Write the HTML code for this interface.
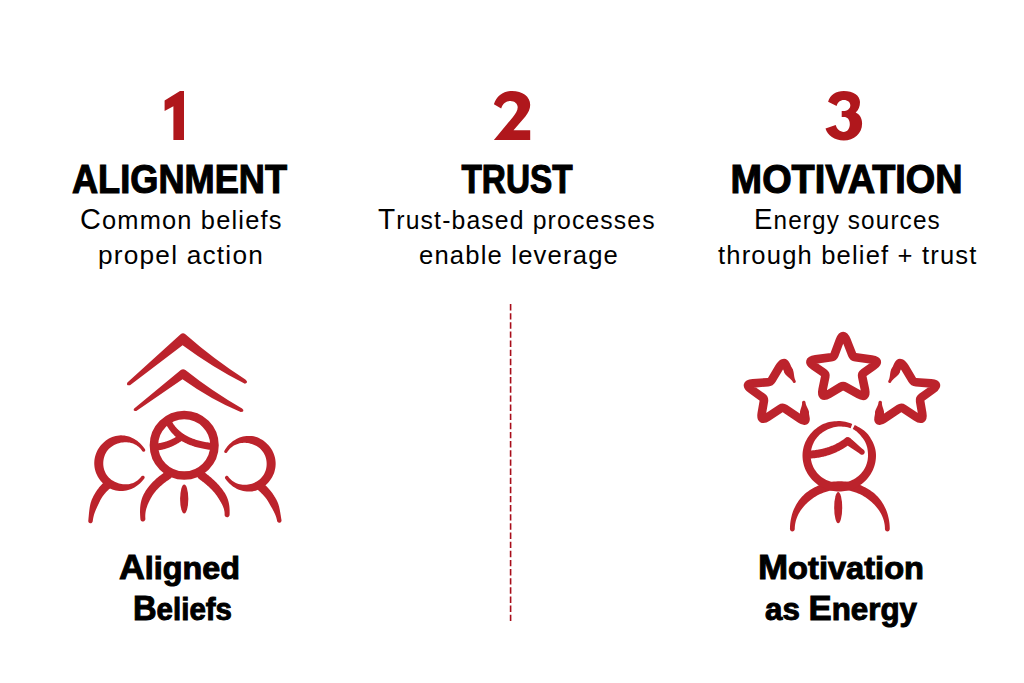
<!DOCTYPE html>
<html><head><meta charset="utf-8">
<style>
html,body{margin:0;padding:0;background:#fff;}
body{width:1024px;height:683px;overflow:hidden;position:relative;}
svg{position:absolute;left:0;top:0;}
.t{font-family:"Liberation Sans",sans-serif;fill:#000;}
.h{font-weight:bold;font-size:40px;stroke:#000;stroke-width:1.15px;}
.s{font-size:26px;letter-spacing:1.2px;}
.sc{font-size:29.5px;}
.b{font-weight:bold;font-size:32px;stroke:#000;stroke-width:1px;}
.bc{font-size:35.5px;}
</style></head><body>
<svg width="1024" height="683" viewBox="0 0 1024 683">
<!-- numerals -->
<g fill="#b0171c">
<path d="M164.6,100.5 L180,91 L184,91 L184,140 L173.4,140 L173.4,106.3 L164.6,111 Z"/>
<path d="M493.9,139.9 L530.2,139.9 L530.2,130.2 L513.5,130.2 L525.4,116.6 C528.5,112.5 530.2,109 530.2,104.8 C530.2,96.5 522.5,91 512,91 C503.5,91 496.5,96 493.9,104.3 L501.2,108.5 C502.8,103.5 506,100.9 510.3,100.9 C514.8,100.9 517.7,103.8 517.7,107.3 C517.7,110.5 515.5,113.8 512.6,117.4 Z"/>
<path d="M825.5,128.5 C827.5,135.5 834.5,140.4 843.8,140.4 C854,140.4 862.1,133.5 862.1,123.4 C862.1,117.5 859,114 855.7,112.5 C858.5,110.5 860,106.5 860,102.1 C860,95.5 853,91.1 843.8,91.1 C836,91.1 830.2,95 828.1,101.7 L836.6,106 C837.6,102.3 840.3,100 843.8,100 C847.8,100 850.3,102.3 850.3,105.3 C850.3,108.8 847.5,111.1 842.8,111.1 L841.7,111.1 L841.7,117 L843.8,117 C847.5,117 849.8,119.6 849.8,124.2 C849.8,128.6 847.3,131.9 843.8,131.9 C839.8,131.9 837,129.5 835.7,125.1 Z"/>
</g>
<!-- headings -->
<text class="t h" x="72" y="193.2" textLength="215" lengthAdjust="spacingAndGlyphs">ALIGNMENT</text>
<text class="t h" x="461.5" y="193.2" textLength="111" lengthAdjust="spacingAndGlyphs">TRUST</text>
<text class="t h" x="730.6" y="193.2" textLength="232" lengthAdjust="spacingAndGlyphs">MOTIVATION</text>
<!-- subtitles -->
<text class="t s" x="80" y="228.6" textLength="202.6" lengthAdjust="spacingAndGlyphs"><tspan class="sc">C</tspan>ommon beliefs</text>
<text class="t s" x="98" y="263.5" textLength="166" lengthAdjust="spacingAndGlyphs">propel action</text>
<text class="t s" x="378" y="228.6" textLength="277.8" lengthAdjust="spacingAndGlyphs"><tspan class="sc">T</tspan>rust-based processes</text>
<text class="t s" x="419" y="263.5" textLength="200" lengthAdjust="spacingAndGlyphs">enable leverage</text>
<text class="t s" x="754" y="228.6" textLength="186.8" lengthAdjust="spacingAndGlyphs"><tspan class="sc">E</tspan>nergy sources</text>
<text class="t s" x="718" y="263.5" textLength="259.6" lengthAdjust="spacingAndGlyphs">through belief + trust</text>
<!-- bottom labels -->
<text class="t b" x="119" y="578.8" textLength="121" lengthAdjust="spacingAndGlyphs"><tspan class="bc">A</tspan>ligned</text>
<text class="t b" x="133" y="620.2" textLength="99" lengthAdjust="spacingAndGlyphs"><tspan class="bc">B</tspan>eliefs</text>
<text class="t b" x="758" y="578.8" textLength="166" lengthAdjust="spacingAndGlyphs"><tspan class="bc">M</tspan>otivation</text>
<text class="t b" x="765" y="619.8" textLength="152" lengthAdjust="spacingAndGlyphs">as <tspan class="bc">E</tspan>nergy</text>
<!-- dashed divider -->
<line x1="510.6" y1="304" x2="510.6" y2="621" stroke="#a80d1a" stroke-width="1.6" stroke-dasharray="6.4 2.74"/>
<!-- left icon -->
<g fill="#bc232c">
<path d="M127.4,382.4 L180.6,334.3 Q183,332.3 185.4,334.3 Q214,359.5 245.4,379.5 Q249,382.5 244.9,383.8 Q213.75,368.2 182.6,345.3 L130,385.2 Q125.8,385.8 127.4,382.4 Z"/>
<path d="M134.2,408.6 L180.8,370.1 Q183.1,368.3 185.4,370.1 Q212.6,391.8 242.1,408.5 Q245.3,411.5 240.7,412.1 Q211.65,400 182.5,379.3 L136.3,410.9 Q132.4,411.3 134.2,408.6 Z"/>
<path d="M145.01,449.34 L144.12,448.01 L143.13,446.68 L142.07,445.40 L140.95,444.18 L139.75,443.01 L138.49,441.91 L137.17,440.87 L135.78,439.90 L134.33,439.00 L132.82,438.19 L131.25,437.47 L129.63,436.85 L127.97,436.32 L126.26,435.91 L124.52,435.61 L122.76,435.43 L120.98,435.37 L119.19,435.44 L117.41,435.64 L115.64,435.97 L113.89,436.43 L112.18,437.02 L110.52,437.74 L108.92,438.59 L107.37,439.54 L105.89,440.58 L104.47,441.70 L103.12,442.92 L101.84,444.21 L100.65,445.58 L99.54,447.02 L98.52,448.54 L97.59,450.11 L96.78,451.75 L96.06,453.44 L95.47,455.17 L94.98,456.94 L94.62,458.74 L94.38,460.56 L94.26,462.39 L94.27,464.23 L94.40,466.06 L94.66,467.88 L95.04,469.68 L95.53,471.44 L96.14,473.17 L96.86,474.85 L97.69,476.48 L98.61,478.05 L99.64,479.56 L100.75,481.00 L101.95,482.36 L103.22,483.65 L104.58,484.86 L106.00,485.99 L107.48,487.03 L109.03,487.97 L110.65,488.79 L112.31,489.48 L114.03,490.05 L115.77,490.49 L117.54,490.81 L119.32,490.99 L121.11,491.05 L122.88,490.99 L124.64,490.80 L126.37,490.50 L128.08,490.09 L129.74,489.58 L131.35,488.96 L132.92,488.25 L134.44,487.45 L135.89,486.57 L137.29,485.61 L138.63,484.58 L139.90,483.49 L141.11,482.33 L142.25,481.11 L143.33,479.84 L144.30,478.56 L144.61,477.93 L144.66,477.23 L144.43,476.56 L143.97,476.03 L143.34,475.72 L142.64,475.67 L141.97,475.90 L141.45,476.36 L140.53,477.54 L139.56,478.60 L138.52,479.58 L137.41,480.48 L136.23,481.29 L135.00,482.01 L133.73,482.63 L132.42,483.15 L131.09,483.58 L129.73,483.91 L128.37,484.15 L127.00,484.29 L125.63,484.35 L124.28,484.32 L122.94,484.21 L121.61,484.02 L120.31,483.76 L119.03,483.43 L117.78,483.03 L116.56,482.58 L115.37,482.06 L114.21,481.49 L113.08,480.86 L111.98,480.18 L110.93,479.43 L109.93,478.61 L108.99,477.73 L108.12,476.79 L107.31,475.79 L106.57,474.74 L105.91,473.64 L105.32,472.51 L104.80,471.34 L104.36,470.15 L103.99,468.93 L103.69,467.69 L103.47,466.45 L103.33,465.19 L103.26,463.93 L103.26,462.66 L103.33,461.40 L103.48,460.14 L103.70,458.90 L103.99,457.66 L104.36,456.45 L104.80,455.25 L105.31,454.09 L105.90,452.95 L106.55,451.86 L107.28,450.80 L108.08,449.80 L108.95,448.85 L109.88,447.96 L110.87,447.13 L111.91,446.38 L113.01,445.70 L114.14,445.08 L115.30,444.52 L116.49,444.01 L117.71,443.56 L118.96,443.16 L120.23,442.83 L121.53,442.57 L122.84,442.38 L124.18,442.26 L125.53,442.21 L126.90,442.25 L128.26,442.38 L129.63,442.60 L130.99,442.90 L132.34,443.31 L133.66,443.81 L134.95,444.40 L136.19,445.10 L137.39,445.88 L138.53,446.76 L139.60,447.73 L140.60,448.78 L141.51,449.90 L142.36,451.14 L142.80,451.57 L143.38,451.81 L144.00,451.81 L144.58,451.56 L145.02,451.12 L145.25,450.54 L145.25,449.92Z"/>
<path d="M227.13,452.37 L227.95,451.09 L228.83,449.92 L229.80,448.83 L230.85,447.82 L231.97,446.89 L233.15,446.06 L234.39,445.32 L235.68,444.67 L237.00,444.13 L238.34,443.68 L239.71,443.33 L241.08,443.07 L242.46,442.91 L243.84,442.83 L245.21,442.84 L246.56,442.93 L247.90,443.09 L249.21,443.33 L250.51,443.63 L251.77,444.00 L253.02,444.43 L254.23,444.92 L255.42,445.46 L256.57,446.07 L257.69,446.73 L258.76,447.48 L259.78,448.30 L260.73,449.18 L261.62,450.13 L262.44,451.13 L263.19,452.19 L263.87,453.29 L264.48,454.43 L265.01,455.60 L265.47,456.80 L265.85,458.03 L266.16,459.27 L266.39,460.53 L266.55,461.80 L266.64,463.07 L266.65,464.35 L266.58,465.63 L266.44,466.90 L266.22,468.16 L265.93,469.41 L265.56,470.64 L265.12,471.85 L264.60,473.03 L264.00,474.18 L263.33,475.29 L262.58,476.35 L261.76,477.36 L260.88,478.31 L259.93,479.20 L258.91,480.02 L257.85,480.77 L256.74,481.46 L255.59,482.09 L254.42,482.66 L253.21,483.17 L251.97,483.63 L250.70,484.01 L249.41,484.34 L248.09,484.59 L246.75,484.76 L245.39,484.85 L244.02,484.87 L242.64,484.79 L241.26,484.62 L239.88,484.36 L238.52,484.01 L237.17,483.55 L235.86,483.00 L234.59,482.35 L233.36,481.61 L232.18,480.77 L231.08,479.84 L230.04,478.83 L229.08,477.74 L228.18,476.53 L227.66,476.05 L227.00,475.81 L226.30,475.84 L225.67,476.14 L225.19,476.66 L224.95,477.32 L224.98,478.02 L225.28,478.66 L226.24,479.97 L227.30,481.28 L228.43,482.54 L229.63,483.73 L230.90,484.86 L232.23,485.92 L233.63,486.91 L235.09,487.82 L236.61,488.65 L238.19,489.39 L239.81,490.04 L241.49,490.58 L243.20,491.01 L244.95,491.34 L246.73,491.54 L248.52,491.62 L250.32,491.58 L252.13,491.40 L253.92,491.10 L255.68,490.66 L257.42,490.10 L259.11,489.40 L260.75,488.58 L262.32,487.64 L263.82,486.60 L265.26,485.46 L266.63,484.24 L267.93,482.94 L269.14,481.56 L270.26,480.11 L271.30,478.58 L272.23,476.99 L273.06,475.35 L273.79,473.64 L274.40,471.90 L274.89,470.11 L275.26,468.29 L275.51,466.45 L275.64,464.60 L275.63,462.74 L275.50,460.89 L275.24,459.05 L274.86,457.23 L274.35,455.45 L273.73,453.70 L272.99,452.01 L272.15,450.36 L271.20,448.78 L270.15,447.26 L269.01,445.82 L267.78,444.45 L266.47,443.16 L265.08,441.96 L263.63,440.84 L262.11,439.82 L260.53,438.88 L258.90,438.06 L257.20,437.37 L255.46,436.80 L253.69,436.37 L251.89,436.07 L250.09,435.91 L248.28,435.88 L246.48,435.98 L244.70,436.20 L242.95,436.55 L241.24,437.01 L239.57,437.58 L237.95,438.25 L236.38,439.02 L234.88,439.88 L233.44,440.83 L232.07,441.85 L230.76,442.94 L229.52,444.10 L228.35,445.31 L227.25,446.59 L226.23,447.91 L225.28,449.29 L224.42,450.66 L224.20,451.25 L224.22,451.87 L224.47,452.44 L224.93,452.87 L225.51,453.09 L226.13,453.07 L226.70,452.82Z"/>
<path d="M104.77,481.75 L104.26,482.17 L103.74,482.62 L103.23,483.09 L102.73,483.56 L102.23,484.03 L101.74,484.52 L101.26,485.01 L100.79,485.52 L100.33,486.03 L99.88,486.54 L99.43,487.07 L98.99,487.60 L98.56,488.14 L98.14,488.69 L97.73,489.24 L97.32,489.80 L96.92,490.37 L96.53,490.94 L96.15,491.52 L95.77,492.10 L95.40,492.70 L95.04,493.29 L94.68,493.90 L94.34,494.51 L93.99,495.12 L93.66,495.75 L93.33,496.37 L93.01,497.01 L92.69,497.65 L92.38,498.29 L92.08,498.95 L91.80,499.61 L91.54,500.28 L91.29,500.97 L91.06,501.66 L90.84,502.36 L90.63,503.07 L90.45,503.78 L90.27,504.50 L90.11,505.23 L89.96,505.97 L89.83,506.71 L89.70,507.45 L89.58,508.20 L89.48,508.96 L89.38,509.72 L89.28,510.48 L89.20,511.25 L89.11,512.02 L89.03,512.79 L88.96,513.57 L88.88,514.36 L88.81,515.14 L88.73,515.93 L88.66,516.73 L88.58,517.53 L88.51,518.33 L88.43,519.14 L88.35,519.95 L88.26,520.76 L88.34,521.63 L88.75,522.41 L89.42,522.97 L90.26,523.24 L91.13,523.16 L91.91,522.75 L92.47,522.08 L92.74,521.24 L92.83,520.46 L92.93,519.69 L93.05,518.93 L93.19,518.18 L93.34,517.44 L93.51,516.71 L93.69,515.98 L93.88,515.27 L94.08,514.57 L94.30,513.87 L94.53,513.19 L94.76,512.51 L95.01,511.85 L95.26,511.19 L95.52,510.54 L95.79,509.90 L96.06,509.27 L96.33,508.65 L96.61,508.04 L96.89,507.43 L97.17,506.84 L97.45,506.25 L97.73,505.66 L98.00,505.08 L98.28,504.51 L98.55,503.94 L98.82,503.38 L99.09,502.82 L99.36,502.26 L99.62,501.71 L99.88,501.16 L100.15,500.62 L100.43,500.09 L100.71,499.56 L101.01,499.04 L101.30,498.53 L101.61,498.03 L101.92,497.53 L102.24,497.04 L102.56,496.56 L102.89,496.09 L103.23,495.62 L103.57,495.16 L103.92,494.71 L104.27,494.26 L104.63,493.82 L105.00,493.39 L105.37,492.96 L105.74,492.54 L106.12,492.12 L106.51,491.71 L106.90,491.31 L107.30,490.91 L107.70,490.52 L108.10,490.13 L108.51,489.75 L108.93,489.37 L109.35,489.00 L109.78,488.64 L110.23,488.25 L111.27,486.96 L111.73,485.37 L111.55,483.72 L110.75,482.27 L109.46,481.23 L107.87,480.77 L106.22,480.95Z"/>
<path d="M258.71,490.71 L259.16,491.09 L259.58,491.47 L260.00,491.84 L260.41,492.22 L260.82,492.60 L261.22,492.99 L261.62,493.38 L262.01,493.77 L262.40,494.17 L262.79,494.57 L263.17,494.98 L263.55,495.39 L263.92,495.80 L264.28,496.22 L264.65,496.65 L265.00,497.08 L265.36,497.51 L265.70,497.95 L266.05,498.39 L266.38,498.84 L266.71,499.30 L267.04,499.76 L267.36,500.23 L267.67,500.70 L267.98,501.18 L268.28,501.66 L268.58,502.15 L268.87,502.64 L269.15,503.14 L269.43,503.65 L269.71,504.16 L269.99,504.67 L270.27,505.18 L270.55,505.69 L270.84,506.20 L271.14,506.72 L271.43,507.24 L271.73,507.76 L272.03,508.29 L272.33,508.82 L272.62,509.36 L272.92,509.90 L273.22,510.45 L273.51,511.00 L273.80,511.56 L274.09,512.13 L274.37,512.71 L274.64,513.29 L274.91,513.88 L275.16,514.48 L275.41,515.09 L275.65,515.70 L275.87,516.32 L276.09,516.95 L276.29,517.59 L276.48,518.24 L276.65,518.89 L276.81,519.56 L276.96,520.22 L277.09,520.91 L277.41,521.73 L278.03,522.35 L278.83,522.70 L279.71,522.71 L280.53,522.39 L281.15,521.77 L281.50,520.97 L281.51,520.09 L281.39,519.38 L281.26,518.66 L281.14,517.95 L281.02,517.24 L280.90,516.53 L280.79,515.83 L280.68,515.12 L280.56,514.42 L280.45,513.72 L280.34,513.02 L280.22,512.32 L280.10,511.63 L279.98,510.94 L279.85,510.25 L279.72,509.56 L279.58,508.88 L279.44,508.20 L279.28,507.52 L279.12,506.85 L278.94,506.18 L278.75,505.51 L278.56,504.86 L278.34,504.20 L278.12,503.56 L277.88,502.92 L277.63,502.29 L277.36,501.67 L277.08,501.05 L276.78,500.45 L276.47,499.85 L276.15,499.26 L275.82,498.68 L275.49,498.10 L275.15,497.52 L274.81,496.95 L274.46,496.38 L274.11,495.82 L273.75,495.26 L273.39,494.71 L273.02,494.16 L272.64,493.61 L272.26,493.07 L271.87,492.53 L271.48,492.00 L271.08,491.48 L270.67,490.96 L270.26,490.44 L269.84,489.93 L269.41,489.43 L268.98,488.93 L268.54,488.44 L268.09,487.95 L267.64,487.47 L267.18,486.99 L266.71,486.52 L266.23,486.06 L265.75,485.60 L265.26,485.15 L264.77,484.71 L264.29,484.29 L262.85,483.47 L261.20,483.26 L259.60,483.70 L258.29,484.71 L257.47,486.15 L257.26,487.80 L257.70,489.40Z"/>
<path d="M165.68,471.64 L164.75,472.25 L163.81,472.87 L162.90,473.51 L162.00,474.15 L161.11,474.79 L160.24,475.45 L159.39,476.11 L158.56,476.77 L157.74,477.44 L156.94,478.12 L156.15,478.81 L155.39,479.50 L154.64,480.19 L153.90,480.90 L153.18,481.61 L152.48,482.32 L151.80,483.04 L151.13,483.77 L150.48,484.50 L149.84,485.24 L149.23,485.99 L148.63,486.74 L148.04,487.50 L147.47,488.26 L146.92,489.03 L146.39,489.80 L145.87,490.59 L145.37,491.37 L144.89,492.16 L144.42,492.96 L143.97,493.77 L143.55,494.58 L143.16,495.41 L142.79,496.24 L142.44,497.08 L142.13,497.93 L141.83,498.79 L141.57,499.65 L141.32,500.52 L141.10,501.39 L140.91,502.27 L140.73,503.14 L140.58,504.02 L140.45,504.91 L140.34,505.79 L140.25,506.68 L140.17,507.57 L140.12,508.45 L140.07,509.34 L140.05,510.23 L140.03,511.12 L140.03,512.01 L140.04,512.91 L140.07,513.80 L140.10,514.70 L140.14,515.60 L140.20,516.50 L140.26,517.41 L140.33,518.32 L140.41,519.21 L140.68,520.14 L141.28,520.91 L142.14,521.38 L143.11,521.49 L144.04,521.22 L144.81,520.62 L145.28,519.76 L145.39,518.79 L145.33,517.95 L145.29,517.13 L145.27,516.32 L145.28,515.52 L145.31,514.72 L145.37,513.93 L145.45,513.14 L145.55,512.36 L145.67,511.60 L145.81,510.83 L145.98,510.08 L146.16,509.34 L146.35,508.60 L146.57,507.88 L146.80,507.16 L147.04,506.45 L147.30,505.74 L147.57,505.05 L147.85,504.36 L148.14,503.68 L148.44,503.00 L148.75,502.33 L149.07,501.66 L149.40,500.99 L149.74,500.33 L150.08,499.67 L150.43,499.01 L150.79,498.36 L151.16,497.70 L151.53,497.04 L151.92,496.38 L152.32,495.73 L152.74,495.08 L153.17,494.43 L153.63,493.79 L154.09,493.15 L154.58,492.51 L155.08,491.88 L155.60,491.25 L156.13,490.62 L156.68,490.00 L157.25,489.38 L157.84,488.77 L158.44,488.15 L159.05,487.54 L159.69,486.94 L160.34,486.34 L161.01,485.74 L161.69,485.14 L162.39,484.55 L163.11,483.96 L163.84,483.37 L164.59,482.78 L165.35,482.20 L166.14,481.62 L166.94,481.05 L167.75,480.47 L168.58,479.91 L169.43,479.34 L170.32,478.76 L171.51,477.60 L172.16,476.08 L172.18,474.42 L171.56,472.88 L170.40,471.69 L168.88,471.04 L167.22,471.02Z"/>
<path d="M199.00,478.94 L199.86,479.56 L200.69,480.17 L201.50,480.78 L202.30,481.39 L203.08,482.00 L203.85,482.61 L204.60,483.22 L205.34,483.82 L206.06,484.43 L206.76,485.03 L207.46,485.64 L208.13,486.24 L208.79,486.85 L209.44,487.45 L210.07,488.05 L210.68,488.66 L211.28,489.26 L211.87,489.86 L212.44,490.46 L212.99,491.07 L213.53,491.67 L214.05,492.27 L214.56,492.87 L215.05,493.47 L215.52,494.07 L215.98,494.67 L216.43,495.27 L216.85,495.87 L217.27,496.46 L217.66,497.06 L218.05,497.66 L218.43,498.25 L218.80,498.83 L219.16,499.41 L219.52,499.99 L219.87,500.56 L220.21,501.13 L220.55,501.70 L220.88,502.27 L221.20,502.83 L221.50,503.40 L221.80,503.97 L222.09,504.54 L222.37,505.11 L222.64,505.68 L222.89,506.26 L223.13,506.84 L223.36,507.42 L223.57,508.01 L223.76,508.60 L223.94,509.19 L224.09,509.79 L224.23,510.40 L224.35,511.00 L224.44,511.61 L224.52,512.23 L224.57,512.84 L224.61,513.46 L224.62,514.08 L224.60,514.73 L224.76,515.69 L225.28,516.52 L226.08,517.08 L227.03,517.30 L227.99,517.14 L228.82,516.62 L229.38,515.82 L229.60,514.87 L229.62,514.17 L229.64,513.43 L229.65,512.70 L229.65,511.97 L229.64,511.24 L229.63,510.50 L229.60,509.76 L229.57,509.03 L229.52,508.28 L229.46,507.54 L229.39,506.79 L229.31,506.04 L229.21,505.29 L229.09,504.54 L228.96,503.78 L228.81,503.02 L228.65,502.27 L228.46,501.51 L228.25,500.75 L228.03,499.99 L227.78,499.23 L227.51,498.48 L227.22,497.72 L226.90,496.98 L226.57,496.23 L226.21,495.49 L225.82,494.76 L225.42,494.03 L224.99,493.30 L224.54,492.59 L224.06,491.88 L223.58,491.17 L223.08,490.46 L222.56,489.75 L222.03,489.05 L221.49,488.35 L220.93,487.65 L220.36,486.95 L219.77,486.25 L219.17,485.56 L218.55,484.86 L217.92,484.17 L217.27,483.48 L216.61,482.79 L215.93,482.11 L215.24,481.42 L214.53,480.74 L213.81,480.06 L213.08,479.38 L212.33,478.71 L211.56,478.03 L210.78,477.36 L209.98,476.69 L209.17,476.02 L208.34,475.35 L207.50,474.69 L206.64,474.02 L205.77,473.36 L204.88,472.71 L204.00,472.06 L202.49,471.37 L200.83,471.30 L199.28,471.88 L198.06,473.00 L197.37,474.51 L197.30,476.17 L197.88,477.72Z"/>
<path d="M166.16,424.58 L166.45,425.10 L166.76,425.64 L167.07,426.18 L167.40,426.72 L167.73,427.27 L168.08,427.81 L168.44,428.36 L168.80,428.90 L169.18,429.45 L169.57,430.00 L169.98,430.54 L170.39,431.09 L170.82,431.63 L171.27,432.18 L171.73,432.72 L172.20,433.26 L172.69,433.79 L173.19,434.33 L173.71,434.86 L174.25,435.38 L174.80,435.90 L175.37,436.42 L175.95,436.93 L176.56,437.44 L177.18,437.94 L177.82,438.43 L178.48,438.92 L179.15,439.39 L179.85,439.87 L180.56,440.33 L181.29,440.78 L182.04,441.23 L182.81,441.67 L183.60,442.11 L184.41,442.53 L185.24,442.95 L186.08,443.36 L186.95,443.76 L187.83,444.15 L188.74,444.53 L189.67,444.91 L190.62,445.27 L191.59,445.62 L192.58,445.97 L193.59,446.30 L194.63,446.63 L195.69,446.94 L196.77,447.24 L197.87,447.53 L199.00,447.81 L200.15,448.08 L201.32,448.34 L202.52,448.59 L203.74,448.82 L204.99,449.05 L206.27,449.26 L207.56,449.46 L208.89,449.64 L210.24,449.82 L211.59,449.98 L212.95,449.87 L214.17,449.25 L215.06,448.21 L215.48,446.91 L215.37,445.55 L214.75,444.33 L213.71,443.44 L212.41,443.02 L211.09,442.87 L209.82,442.71 L208.58,442.53 L207.37,442.35 L206.18,442.15 L205.02,441.94 L203.89,441.72 L202.78,441.50 L201.70,441.26 L200.64,441.01 L199.61,440.75 L198.61,440.49 L197.63,440.21 L196.67,439.93 L195.73,439.64 L194.82,439.34 L193.94,439.03 L193.07,438.71 L192.23,438.39 L191.41,438.06 L190.61,437.72 L189.83,437.38 L189.07,437.03 L188.33,436.67 L187.62,436.31 L186.92,435.94 L186.24,435.57 L185.58,435.19 L184.94,434.81 L184.31,434.42 L183.71,434.03 L183.12,433.63 L182.54,433.23 L181.99,432.83 L181.44,432.43 L180.91,432.02 L180.40,431.61 L179.90,431.19 L179.41,430.78 L178.94,430.36 L178.48,429.94 L178.03,429.51 L177.59,429.08 L177.17,428.65 L176.76,428.22 L176.36,427.78 L175.97,427.34 L175.59,426.90 L175.22,426.46 L174.87,426.01 L174.52,425.56 L174.18,425.11 L173.86,424.66 L173.54,424.20 L173.24,423.75 L172.94,423.29 L172.65,422.82 L172.38,422.36 L172.11,421.90 L171.84,421.42 L171.02,420.45 L169.89,419.87 L168.62,419.77 L167.42,420.16 L166.45,420.98 L165.87,422.11 L165.77,423.38Z"/>
<path d="M159.05,450.26 L159.45,450.19 L159.85,450.12 L160.26,450.05 L160.66,449.98 L161.07,449.90 L161.47,449.82 L161.87,449.73 L162.27,449.65 L162.67,449.56 L163.06,449.46 L163.46,449.37 L163.85,449.27 L164.25,449.16 L164.64,449.06 L165.03,448.95 L165.42,448.84 L165.81,448.72 L166.19,448.61 L166.58,448.48 L166.96,448.36 L167.35,448.23 L167.73,448.10 L168.11,447.97 L168.49,447.84 L168.87,447.70 L169.25,447.56 L169.62,447.41 L170.00,447.27 L170.37,447.12 L170.74,446.96 L171.11,446.81 L171.48,446.65 L171.85,446.49 L172.22,446.33 L172.58,446.16 L172.95,445.99 L173.31,445.82 L173.67,445.65 L174.03,445.47 L174.39,445.29 L174.75,445.11 L175.11,444.93 L175.46,444.74 L175.82,444.55 L176.17,444.36 L176.52,444.16 L176.87,443.97 L177.22,443.77 L177.57,443.56 L177.92,443.36 L178.27,443.15 L178.61,442.94 L178.96,442.73 L179.30,442.52 L179.64,442.30 L179.98,442.08 L180.32,441.86 L180.66,441.64 L181.00,441.41 L181.33,441.19 L182.22,440.29 L182.69,439.11 L182.68,437.84 L182.19,436.67 L181.29,435.78 L180.11,435.31 L178.84,435.32 L177.67,435.81 L177.37,436.02 L177.07,436.22 L176.77,436.42 L176.47,436.61 L176.16,436.80 L175.86,436.99 L175.56,437.17 L175.25,437.36 L174.94,437.54 L174.64,437.71 L174.33,437.89 L174.02,438.06 L173.71,438.23 L173.39,438.39 L173.08,438.56 L172.77,438.72 L172.45,438.87 L172.13,439.03 L171.82,439.18 L171.50,439.33 L171.18,439.48 L170.86,439.62 L170.54,439.76 L170.21,439.90 L169.89,440.04 L169.57,440.17 L169.24,440.31 L168.92,440.44 L168.59,440.56 L168.26,440.69 L167.93,440.81 L167.60,440.93 L167.27,441.04 L166.94,441.16 L166.60,441.27 L166.27,441.38 L165.93,441.49 L165.60,441.59 L165.26,441.69 L164.92,441.80 L164.59,441.89 L164.25,441.99 L163.91,442.08 L163.56,442.17 L163.22,442.26 L162.88,442.35 L162.53,442.43 L162.19,442.52 L161.84,442.60 L161.49,442.68 L161.14,442.75 L160.79,442.83 L160.44,442.90 L160.09,442.97 L159.74,443.04 L159.39,443.10 L159.03,443.16 L158.67,443.23 L158.32,443.28 L157.95,443.34 L156.67,443.82 L155.66,444.75 L155.10,445.99 L155.04,447.35 L155.52,448.63 L156.45,449.64 L157.69,450.20Z"/>
<ellipse cx="184.2" cy="499" rx="4.1" ry="14.4"/>
</g>
<circle cx="184.2" cy="445.3" r="30.3" fill="none" stroke="#bc232c" stroke-width="8.5"/>
<g fill="none" stroke="#bc232c" stroke-width="8.6" stroke-linejoin="round" stroke-linecap="round">
<path d="M848.10,344.25 L852.19,354.67 Q853.10,357.00 855.58,357.32 L871.70,359.42 Q881.12,360.65 873.33,366.08 L863.75,372.77 Q861.70,374.20 862.22,376.65 L864.98,389.67 Q866.95,398.97 858.69,394.27 L845.27,386.64 Q843.10,385.40 840.96,386.70 L828.78,394.11 Q820.66,399.05 822.59,389.74 L825.29,376.65 Q825.80,374.20 823.74,372.78 L813.91,366.01 Q806.09,360.62 815.51,359.38 L831.12,357.33 Q833.60,357.00 834.47,354.66 L839.78,340.40 Q843.10,331.50 846.57,340.34 Z"/>
<path d="M788.40,370.70 L785.95,365.24 Q783.60,360.00 779.00,367.73 L771.78,379.85 Q770.50,382.00 768.01,382.20 L752.93,383.40 Q743.96,384.11 751.26,389.38 L762.27,397.34 Q764.30,398.80 763.87,401.26 L761.80,413.14 Q760.26,422.00 767.75,417.03 L780.62,408.48 Q782.70,407.10 784.77,408.50 L798.88,418.05 Q806.33,423.10 805.43,418.15 L804.50,413.00"/>
<path d="M895.60,370.70 L898.05,365.24 Q900.40,360.00 905.00,367.73 L912.22,379.85 Q913.50,382.00 915.99,382.20 L931.07,383.40 Q940.04,384.11 932.74,389.38 L921.73,397.34 Q919.70,398.80 920.13,401.26 L922.20,413.14 Q923.74,422.00 916.25,417.03 L903.38,408.48 Q901.30,407.10 899.23,408.50 L885.12,418.05 Q877.67,423.10 878.57,418.15 L879.50,413.00"/>
</g>
<g fill="#bc232c">
<path d="M784.45,372.86 L784.55,373.04 L784.65,373.21 L784.76,373.39 L784.87,373.56 L784.99,373.73 L785.11,373.90 L785.23,374.07 L785.35,374.24 L785.48,374.40 L785.61,374.56 L785.74,374.72 L785.88,374.88 L786.02,375.04 L786.17,375.19 L786.31,375.35 L786.46,375.50 L786.61,375.65 L786.76,375.80 L786.92,375.95 L787.08,376.10 L787.23,376.24 L787.40,376.39 L787.56,376.54 L787.72,376.68 L787.88,376.82 L788.05,376.97 L788.22,377.11 L788.38,377.25 L788.55,377.40 L788.72,377.54 L788.88,377.68 L789.05,377.82 L789.22,377.97 L789.38,378.11 L789.55,378.25 L789.71,378.40 L789.88,378.54 L790.04,378.69 L790.20,378.83 L790.36,378.98 L790.52,379.13 L790.67,379.28 L790.82,379.43 L790.97,379.58 L791.12,379.73 L791.27,379.88 L791.41,380.04 L791.55,380.20 L791.69,380.36 L791.82,380.52 L791.96,380.68 L792.08,380.84 L792.21,381.01 L792.33,381.17 L792.45,381.34 L792.56,381.51 L792.67,381.69 L792.78,381.86 L792.88,382.04 L792.98,382.22 L793.36,382.67 L793.88,382.94 L794.46,382.99 L795.02,382.82 L795.47,382.44 L795.74,381.92 L795.79,381.34 L795.62,380.78 L795.52,380.60 L795.43,380.42 L795.34,380.23 L795.25,380.05 L795.17,379.86 L795.09,379.67 L795.02,379.47 L794.94,379.28 L794.87,379.08 L794.81,378.88 L794.75,378.68 L794.69,378.48 L794.63,378.28 L794.58,378.08 L794.53,377.87 L794.48,377.66 L794.43,377.45 L794.39,377.24 L794.35,377.03 L794.31,376.82 L794.27,376.61 L794.23,376.39 L794.20,376.18 L794.17,375.96 L794.13,375.75 L794.10,375.53 L794.07,375.31 L794.04,375.10 L794.01,374.88 L793.98,374.66 L793.95,374.44 L793.92,374.23 L793.89,374.01 L793.86,373.79 L793.83,373.58 L793.80,373.36 L793.77,373.14 L793.73,372.93 L793.70,372.72 L793.66,372.50 L793.62,372.29 L793.58,372.08 L793.53,371.87 L793.49,371.66 L793.44,371.45 L793.39,371.25 L793.33,371.04 L793.28,370.84 L793.22,370.64 L793.16,370.44 L793.09,370.24 L793.02,370.04 L792.95,369.85 L792.87,369.66 L792.80,369.47 L792.71,369.28 L792.63,369.09 L792.54,368.91 L792.45,368.72 L792.35,368.54 L791.22,367.20 L789.67,366.38 L787.92,366.23 L786.24,366.75 L784.90,367.88 L784.08,369.43 L783.93,371.18Z"/>
<path d="M808.99,412.70 L808.98,412.53 L808.96,412.35 L808.94,412.18 L808.91,412.00 L808.88,411.83 L808.85,411.66 L808.82,411.48 L808.78,411.31 L808.74,411.14 L808.69,410.96 L808.64,410.79 L808.59,410.62 L808.53,410.45 L808.47,410.27 L808.41,410.10 L808.35,409.93 L808.28,409.76 L808.21,409.59 L808.14,409.42 L808.07,409.25 L808.00,409.08 L807.92,408.90 L807.84,408.73 L807.76,408.56 L807.68,408.39 L807.60,408.22 L807.52,408.05 L807.43,407.88 L807.35,407.71 L807.27,407.54 L807.18,407.37 L807.10,407.20 L807.02,407.03 L806.94,406.86 L806.85,406.69 L806.77,406.52 L806.69,406.35 L806.62,406.18 L806.54,406.01 L806.47,405.84 L806.39,405.67 L806.32,405.50 L806.25,405.32 L806.19,405.15 L806.12,404.98 L806.06,404.81 L806.00,404.64 L805.95,404.47 L805.90,404.29 L805.85,404.12 L805.80,403.95 L805.76,403.78 L805.72,403.60 L805.68,403.43 L805.65,403.26 L805.62,403.08 L805.60,402.91 L805.58,402.73 L805.56,402.56 L805.55,402.38 L805.37,401.72 L804.95,401.18 L804.36,400.84 L803.68,400.75 L803.02,400.93 L802.48,401.35 L802.14,401.94 L802.05,402.62 L802.06,402.79 L802.07,402.97 L802.07,403.14 L802.07,403.32 L802.07,403.49 L802.06,403.67 L802.04,403.85 L802.03,404.02 L802.01,404.20 L801.99,404.38 L801.96,404.56 L801.93,404.73 L801.90,404.91 L801.86,405.09 L801.83,405.27 L801.79,405.45 L801.74,405.63 L801.70,405.80 L801.65,405.98 L801.60,406.16 L801.55,406.34 L801.50,406.52 L801.44,406.70 L801.39,406.88 L801.33,407.06 L801.27,407.24 L801.21,407.42 L801.15,407.60 L801.09,407.78 L801.03,407.96 L800.97,408.14 L800.91,408.32 L800.85,408.50 L800.79,408.68 L800.74,408.86 L800.68,409.04 L800.62,409.22 L800.57,409.40 L800.51,409.57 L800.46,409.75 L800.41,409.93 L800.37,410.11 L800.32,410.29 L800.28,410.47 L800.24,410.65 L800.20,410.83 L800.16,411.00 L800.13,411.18 L800.10,411.36 L800.08,411.54 L800.05,411.71 L800.04,411.89 L800.02,412.07 L800.01,412.24 L800.00,412.42 L799.99,412.60 L799.99,412.77 L799.99,412.95 L800.00,413.12 L800.01,413.30 L800.47,414.99 L801.54,416.39 L803.06,417.26 L804.80,417.49 L806.49,417.03 L807.89,415.96 L808.76,414.44Z"/>
<path d="M891.65,368.54 L891.55,368.72 L891.46,368.91 L891.37,369.09 L891.29,369.28 L891.20,369.47 L891.13,369.66 L891.05,369.85 L890.98,370.04 L890.91,370.24 L890.84,370.44 L890.78,370.64 L890.72,370.84 L890.67,371.04 L890.61,371.25 L890.56,371.45 L890.51,371.66 L890.47,371.87 L890.42,372.08 L890.38,372.29 L890.34,372.50 L890.30,372.72 L890.27,372.93 L890.23,373.14 L890.20,373.36 L890.17,373.58 L890.14,373.79 L890.11,374.01 L890.08,374.23 L890.05,374.44 L890.02,374.66 L889.99,374.88 L889.96,375.10 L889.93,375.31 L889.90,375.53 L889.87,375.75 L889.83,375.96 L889.80,376.18 L889.77,376.39 L889.73,376.61 L889.69,376.82 L889.65,377.03 L889.61,377.24 L889.57,377.45 L889.52,377.66 L889.47,377.87 L889.42,378.08 L889.37,378.28 L889.31,378.48 L889.25,378.68 L889.19,378.88 L889.13,379.08 L889.06,379.28 L888.98,379.47 L888.91,379.67 L888.83,379.86 L888.75,380.05 L888.66,380.23 L888.57,380.42 L888.48,380.60 L888.38,380.78 L888.21,381.34 L888.26,381.92 L888.53,382.44 L888.98,382.82 L889.54,382.99 L890.12,382.94 L890.64,382.67 L891.02,382.22 L891.12,382.04 L891.22,381.86 L891.33,381.69 L891.44,381.51 L891.55,381.34 L891.67,381.17 L891.79,381.01 L891.92,380.84 L892.04,380.68 L892.18,380.52 L892.31,380.36 L892.45,380.20 L892.59,380.04 L892.73,379.88 L892.88,379.73 L893.03,379.58 L893.18,379.43 L893.33,379.28 L893.48,379.13 L893.64,378.98 L893.80,378.83 L893.96,378.69 L894.12,378.54 L894.29,378.40 L894.45,378.25 L894.62,378.11 L894.78,377.97 L894.95,377.82 L895.12,377.68 L895.28,377.54 L895.45,377.40 L895.62,377.25 L895.78,377.11 L895.95,376.97 L896.12,376.82 L896.28,376.68 L896.44,376.54 L896.60,376.39 L896.77,376.24 L896.92,376.10 L897.08,375.95 L897.24,375.80 L897.39,375.65 L897.54,375.50 L897.69,375.35 L897.83,375.19 L897.98,375.04 L898.12,374.88 L898.26,374.72 L898.39,374.56 L898.52,374.40 L898.65,374.24 L898.77,374.07 L898.89,373.90 L899.01,373.73 L899.13,373.56 L899.24,373.39 L899.35,373.21 L899.45,373.04 L899.55,372.86 L900.07,371.18 L899.92,369.43 L899.10,367.88 L897.76,366.75 L896.08,366.23 L894.33,366.38 L892.78,367.20Z"/>
<path d="M883.99,413.30 L884.00,413.12 L884.01,412.95 L884.01,412.77 L884.01,412.60 L884.00,412.42 L883.99,412.24 L883.98,412.07 L883.96,411.89 L883.95,411.71 L883.92,411.54 L883.90,411.36 L883.87,411.18 L883.84,411.00 L883.80,410.83 L883.76,410.65 L883.72,410.47 L883.68,410.29 L883.63,410.11 L883.59,409.93 L883.54,409.75 L883.49,409.57 L883.43,409.40 L883.38,409.22 L883.32,409.04 L883.26,408.86 L883.21,408.68 L883.15,408.50 L883.09,408.32 L883.03,408.14 L882.97,407.96 L882.91,407.78 L882.85,407.60 L882.79,407.42 L882.73,407.24 L882.67,407.06 L882.61,406.88 L882.56,406.70 L882.50,406.52 L882.45,406.34 L882.40,406.16 L882.35,405.98 L882.30,405.80 L882.26,405.63 L882.21,405.45 L882.17,405.27 L882.14,405.09 L882.10,404.91 L882.07,404.73 L882.04,404.56 L882.01,404.38 L881.99,404.20 L881.97,404.02 L881.96,403.85 L881.94,403.67 L881.93,403.49 L881.93,403.32 L881.93,403.14 L881.93,402.97 L881.94,402.79 L881.95,402.62 L881.86,401.94 L881.52,401.35 L880.98,400.93 L880.32,400.75 L879.64,400.84 L879.05,401.18 L878.63,401.72 L878.45,402.38 L878.44,402.56 L878.42,402.73 L878.40,402.91 L878.38,403.08 L878.35,403.26 L878.32,403.43 L878.28,403.60 L878.24,403.78 L878.20,403.95 L878.15,404.12 L878.10,404.29 L878.05,404.47 L878.00,404.64 L877.94,404.81 L877.88,404.98 L877.81,405.15 L877.75,405.32 L877.68,405.50 L877.61,405.67 L877.53,405.84 L877.46,406.01 L877.38,406.18 L877.31,406.35 L877.23,406.52 L877.15,406.69 L877.06,406.86 L876.98,407.03 L876.90,407.20 L876.82,407.37 L876.73,407.54 L876.65,407.71 L876.57,407.88 L876.48,408.05 L876.40,408.22 L876.32,408.39 L876.24,408.56 L876.16,408.73 L876.08,408.90 L876.00,409.08 L875.93,409.25 L875.86,409.42 L875.79,409.59 L875.72,409.76 L875.65,409.93 L875.59,410.10 L875.53,410.27 L875.47,410.45 L875.41,410.62 L875.36,410.79 L875.31,410.96 L875.26,411.14 L875.22,411.31 L875.18,411.48 L875.15,411.66 L875.12,411.83 L875.09,412.00 L875.06,412.18 L875.04,412.35 L875.02,412.53 L875.01,412.70 L875.24,414.44 L876.11,415.96 L877.51,417.03 L879.20,417.49 L880.94,417.26 L882.46,416.39 L883.53,414.99Z"/>
<path d="M811.30,458.49 L812.02,458.43 L812.75,458.37 L813.48,458.30 L814.20,458.23 L814.92,458.15 L815.64,458.06 L816.36,457.96 L817.07,457.86 L817.78,457.75 L818.49,457.64 L819.19,457.52 L819.89,457.39 L820.59,457.26 L821.29,457.12 L821.98,456.97 L822.67,456.82 L823.36,456.66 L824.04,456.49 L824.72,456.32 L825.40,456.14 L826.08,455.96 L826.75,455.77 L827.42,455.57 L828.08,455.37 L828.75,455.16 L829.41,454.94 L830.06,454.72 L830.72,454.49 L831.37,454.25 L832.01,454.01 L832.66,453.76 L833.30,453.51 L833.94,453.25 L834.57,452.98 L835.20,452.71 L835.83,452.43 L836.46,452.15 L837.08,451.86 L837.70,451.56 L838.31,451.26 L838.93,450.95 L839.54,450.64 L840.14,450.32 L840.75,449.99 L841.35,449.66 L841.94,449.32 L842.54,448.98 L843.13,448.63 L843.72,448.27 L844.30,447.91 L844.88,447.55 L845.46,447.17 L846.04,446.79 L846.61,446.41 L847.18,446.02 L847.74,445.62 L848.31,445.22 L848.87,444.81 L849.42,444.40 L849.96,443.99 L850.93,442.90 L851.41,441.51 L851.33,440.05 L850.69,438.74 L849.60,437.77 L848.21,437.29 L846.75,437.37 L845.44,438.01 L844.93,438.40 L844.43,438.76 L843.93,439.13 L843.42,439.48 L842.92,439.84 L842.41,440.18 L841.89,440.52 L841.38,440.85 L840.86,441.18 L840.34,441.50 L839.82,441.82 L839.29,442.13 L838.76,442.44 L838.23,442.73 L837.69,443.03 L837.15,443.31 L836.61,443.60 L836.07,443.87 L835.52,444.14 L834.98,444.41 L834.42,444.66 L833.87,444.92 L833.31,445.16 L832.75,445.41 L832.19,445.64 L831.63,445.87 L831.06,446.10 L830.49,446.32 L829.91,446.53 L829.34,446.74 L828.76,446.94 L828.18,447.14 L827.59,447.33 L827.00,447.52 L826.41,447.70 L825.82,447.87 L825.23,448.04 L824.63,448.21 L824.02,448.37 L823.42,448.52 L822.81,448.67 L822.20,448.82 L821.59,448.95 L820.97,449.09 L820.36,449.21 L819.73,449.34 L819.11,449.45 L818.48,449.57 L817.85,449.67 L817.22,449.78 L816.58,449.87 L815.94,449.96 L815.30,450.05 L814.65,450.13 L814.00,450.21 L813.35,450.28 L812.70,450.34 L812.04,450.40 L811.38,450.46 L810.70,450.51 L809.19,450.93 L807.97,451.89 L807.20,453.25 L807.01,454.80 L807.43,456.31 L808.39,457.53 L809.75,458.30Z"/>
<path d="M845.41,443.97 L845.65,444.16 L845.89,444.34 L846.13,444.52 L846.37,444.70 L846.62,444.88 L846.86,445.05 L847.10,445.23 L847.35,445.40 L847.59,445.58 L847.84,445.75 L848.08,445.93 L848.33,446.10 L848.58,446.27 L848.83,446.44 L849.08,446.61 L849.33,446.77 L849.58,446.94 L849.83,447.11 L850.08,447.28 L850.33,447.44 L850.59,447.61 L850.84,447.77 L851.09,447.93 L851.34,448.10 L851.60,448.26 L851.85,448.43 L852.11,448.59 L852.36,448.75 L852.61,448.91 L852.87,449.08 L853.12,449.24 L853.38,449.40 L853.63,449.56 L853.89,449.73 L854.14,449.89 L854.39,450.05 L854.65,450.22 L854.90,450.38 L855.15,450.55 L855.40,450.71 L855.66,450.88 L855.91,451.04 L856.16,451.21 L856.41,451.38 L856.66,451.55 L856.91,451.71 L857.16,451.88 L857.41,452.06 L857.65,452.23 L857.90,452.40 L858.15,452.57 L858.39,452.75 L858.63,452.92 L858.88,453.10 L859.12,453.28 L859.36,453.46 L859.60,453.63 L859.84,453.82 L860.08,454.00 L860.32,454.18 L861.29,454.66 L862.36,454.73 L863.37,454.38 L864.18,453.68 L864.66,452.71 L864.73,451.64 L864.38,450.63 L863.68,449.82 L863.44,449.64 L863.20,449.45 L862.97,449.27 L862.73,449.08 L862.50,448.89 L862.26,448.70 L862.03,448.51 L861.80,448.32 L861.56,448.13 L861.33,447.93 L861.10,447.74 L860.87,447.54 L860.65,447.35 L860.42,447.15 L860.19,446.95 L859.96,446.76 L859.74,446.56 L859.51,446.36 L859.29,446.16 L859.06,445.96 L858.84,445.75 L858.61,445.55 L858.39,445.35 L858.17,445.15 L857.94,444.94 L857.72,444.74 L857.50,444.54 L857.28,444.33 L857.05,444.13 L856.83,443.92 L856.61,443.72 L856.39,443.52 L856.16,443.31 L855.94,443.11 L855.72,442.90 L855.50,442.70 L855.27,442.50 L855.05,442.30 L854.82,442.09 L854.60,441.89 L854.38,441.69 L854.15,441.49 L853.93,441.29 L853.70,441.09 L853.47,440.89 L853.24,440.70 L853.02,440.50 L852.79,440.30 L852.56,440.11 L852.33,439.91 L852.10,439.72 L851.87,439.53 L851.63,439.34 L851.40,439.15 L851.17,438.96 L850.93,438.77 L850.70,438.58 L850.46,438.40 L850.22,438.21 L849.99,438.03 L848.67,437.38 L847.21,437.28 L845.83,437.75 L844.73,438.71 L844.08,440.03 L843.98,441.49 L844.45,442.87Z"/>
<path d="M794.75,529.05 L794.79,527.40 L794.92,525.80 L795.13,524.20 L795.42,522.63 L795.79,521.06 L796.25,519.52 L796.77,518.01 L797.37,516.51 L798.04,515.05 L798.78,513.62 L799.58,512.23 L800.43,510.87 L801.35,509.54 L802.31,508.25 L803.33,507.00 L804.39,505.79 L805.49,504.61 L806.64,503.46 L807.83,502.36 L809.05,501.28 L810.31,500.25 L811.60,499.25 L812.93,498.28 L814.28,497.35 L815.68,496.46 L817.11,495.62 L818.58,494.83 L820.08,494.09 L821.62,493.41 L823.18,492.78 L824.77,492.22 L826.38,491.70 L828.02,491.25 L829.67,490.85 L831.34,490.52 L833.03,490.24 L834.72,490.03 L836.43,489.87 L838.14,489.78 L839.85,489.75 L841.56,489.78 L843.27,489.87 L844.98,490.03 L846.67,490.24 L848.36,490.52 L850.03,490.85 L851.68,491.25 L853.32,491.70 L854.93,492.22 L856.52,492.78 L858.08,493.41 L859.62,494.09 L861.12,494.83 L862.59,495.62 L864.02,496.46 L865.42,497.35 L866.77,498.28 L868.10,499.25 L869.39,500.25 L870.65,501.28 L871.87,502.36 L873.06,503.46 L874.21,504.61 L875.31,505.79 L876.37,507.00 L877.39,508.25 L878.35,509.54 L879.27,510.87 L880.12,512.23 L880.92,513.62 L881.66,515.05 L882.33,516.51 L882.93,518.01 L883.45,519.52 L883.91,521.06 L884.28,522.63 L884.57,524.20 L884.78,525.80 L884.91,527.40 L884.95,529.05 L885.15,529.97 L885.69,530.73 L886.48,531.24 L887.40,531.40 L888.32,531.20 L889.08,530.66 L889.59,529.87 L889.75,528.95 L889.72,527.19 L889.63,525.38 L889.47,523.57 L889.25,521.76 L888.97,519.96 L888.62,518.17 L888.21,516.38 L887.72,514.60 L887.17,512.83 L886.55,511.08 L885.85,509.35 L885.08,507.63 L884.23,505.95 L883.31,504.29 L882.32,502.66 L881.25,501.08 L880.10,499.53 L878.88,498.04 L877.59,496.59 L876.22,495.20 L874.79,493.87 L873.30,492.60 L871.74,491.40 L870.12,490.27 L868.46,489.21 L866.75,488.20 L865.00,487.26 L863.21,486.39 L861.39,485.58 L859.53,484.84 L857.65,484.16 L855.74,483.56 L853.81,483.02 L851.85,482.55 L849.88,482.15 L847.89,481.83 L845.89,481.58 L843.88,481.40 L841.87,481.29 L839.85,481.25 L837.83,481.29 L835.82,481.40 L833.81,481.58 L831.81,481.83 L829.82,482.15 L827.85,482.55 L825.89,483.02 L823.96,483.56 L822.05,484.16 L820.17,484.84 L818.31,485.58 L816.49,486.39 L814.70,487.26 L812.95,488.20 L811.24,489.21 L809.58,490.27 L807.96,491.40 L806.40,492.60 L804.91,493.87 L803.48,495.20 L802.11,496.59 L800.82,498.04 L799.60,499.53 L798.45,501.08 L797.38,502.66 L796.39,504.29 L795.47,505.95 L794.62,507.63 L793.85,509.35 L793.15,511.08 L792.53,512.83 L791.98,514.60 L791.49,516.38 L791.08,518.17 L790.73,519.96 L790.45,521.76 L790.23,523.57 L790.07,525.38 L789.98,527.19 L789.95,528.95 L790.11,529.87 L790.62,530.66 L791.38,531.20 L792.30,531.40 L793.22,531.24 L794.01,530.73 L794.55,529.97Z"/>
<ellipse cx="838.2" cy="507.6" rx="4" ry="15.6"/>
</g>
<path fill="#bc232c" d="M852.72,429.06 L854.15,429.82 L855.47,430.66 L856.71,431.60 L857.87,432.63 L858.97,433.71 L860.00,434.84 L860.98,435.99 L861.91,437.17 L862.82,438.36 L863.69,439.56 L864.49,440.81 L865.20,442.11 L865.82,443.45 L866.35,444.82 L866.80,446.21 L867.17,447.62 L867.46,449.04 L867.68,450.46 L867.84,451.89 L867.94,453.32 L867.99,454.74 L867.99,456.17 L867.92,457.59 L867.76,459.01 L867.54,460.42 L867.23,461.82 L866.85,463.19 L866.40,464.55 L865.87,465.88 L865.27,467.19 L864.60,468.46 L863.87,469.70 L863.07,470.89 L862.20,472.05 L861.27,473.16 L860.29,474.22 L859.25,475.24 L858.16,476.20 L857.01,477.10 L855.82,477.95 L854.59,478.73 L853.32,479.46 L852.01,480.11 L850.66,480.71 L849.29,481.23 L847.89,481.69 L846.47,482.08 L845.03,482.40 L843.57,482.64 L842.11,482.82 L840.63,482.92 L839.15,482.95 L837.68,482.91 L836.20,482.79 L834.74,482.60 L833.29,482.34 L831.85,482.00 L830.43,481.60 L829.04,481.12 L827.67,480.58 L826.34,479.97 L825.04,479.29 L823.78,478.56 L822.56,477.75 L821.38,476.89 L820.25,475.98 L819.17,475.00 L818.15,473.98 L817.18,472.91 L816.28,471.78 L815.43,470.62 L814.65,469.42 L813.93,468.17 L813.28,466.90 L812.70,465.59 L812.19,464.26 L811.76,462.90 L811.40,461.52 L811.11,460.13 L810.90,458.72 L810.76,457.31 L810.70,455.89 L810.72,454.47 L810.80,453.05 L810.95,451.63 L811.17,450.22 L811.46,448.83 L811.82,447.44 L812.25,446.07 L812.75,444.72 L813.32,443.39 L813.96,442.09 L814.67,440.82 L815.45,439.59 L816.30,438.39 L817.21,437.24 L818.20,436.14 L819.24,435.09 L820.34,434.09 L821.50,433.16 L822.72,432.29 L823.98,431.49 L825.28,430.74 L826.61,430.03 L827.97,429.35 L829.35,428.73 L830.77,428.16 L832.22,427.66 L833.71,427.24 L835.22,426.91 L836.75,426.68 L838.30,426.57 L839.85,426.55 L841.41,426.57 L842.97,426.63 L844.53,426.76 L846.08,426.96 L847.62,427.25 L849.14,427.65 L850.68,428.18 L852.20,423.95 L850.57,423.34 L848.86,422.76 L847.13,422.24 L845.37,421.80 L843.58,421.44 L841.78,421.19 L839.95,421.07 L838.12,421.07 L836.30,421.14 L834.47,421.28 L832.64,421.48 L830.82,421.76 L829.01,422.12 L827.22,422.58 L825.45,423.14 L823.72,423.80 L822.03,424.58 L820.41,425.48 L818.83,426.46 L817.31,427.52 L815.84,428.65 L814.43,429.84 L813.08,431.10 L811.79,432.43 L810.57,433.82 L809.42,435.27 L808.34,436.78 L807.34,438.34 L806.43,439.95 L805.60,441.61 L804.87,443.31 L804.23,445.05 L803.68,446.82 L803.24,448.63 L802.90,450.45 L802.66,452.29 L802.53,454.15 L802.50,456.01 L802.58,457.86 L802.75,459.71 L803.03,461.55 L803.39,463.37 L803.86,465.18 L804.42,466.95 L805.07,468.70 L805.81,470.41 L806.65,472.08 L807.57,473.71 L808.57,475.28 L809.66,476.81 L810.83,478.28 L812.07,479.68 L813.39,481.03 L814.77,482.30 L816.23,483.50 L817.74,484.63 L819.31,485.68 L820.93,486.65 L822.61,487.54 L824.33,488.34 L826.08,489.05 L827.88,489.67 L829.70,490.21 L831.55,490.64 L833.42,490.99 L835.31,491.24 L837.21,491.39 L839.11,491.45 L841.02,491.41 L842.91,491.28 L844.80,491.04 L846.68,490.72 L848.53,490.29 L850.36,489.78 L852.16,489.17 L853.92,488.47 L855.65,487.69 L857.33,486.81 L858.96,485.86 L860.54,484.82 L862.06,483.70 L863.52,482.51 L864.91,481.25 L866.23,479.92 L867.49,478.52 L868.66,477.06 L869.76,475.55 L870.78,473.98 L871.71,472.37 L872.55,470.71 L873.31,469.01 L873.98,467.27 L874.55,465.50 L875.03,463.71 L875.41,461.90 L875.70,460.06 L875.89,458.22 L875.99,456.37 L875.98,454.52 L875.85,452.67 L875.60,450.84 L875.23,449.03 L874.76,447.24 L874.18,445.49 L873.51,443.78 L872.75,442.11 L871.92,440.48 L871.01,438.89 L870.05,437.34 L869.02,435.83 L867.92,434.37 L866.72,433.00 L865.41,431.72 L864.02,430.54 L862.55,429.45 L861.04,428.45 L859.49,427.52 L857.91,426.64 L856.32,425.82 L854.76,425.05Z"/>

</svg>
</body></html>
